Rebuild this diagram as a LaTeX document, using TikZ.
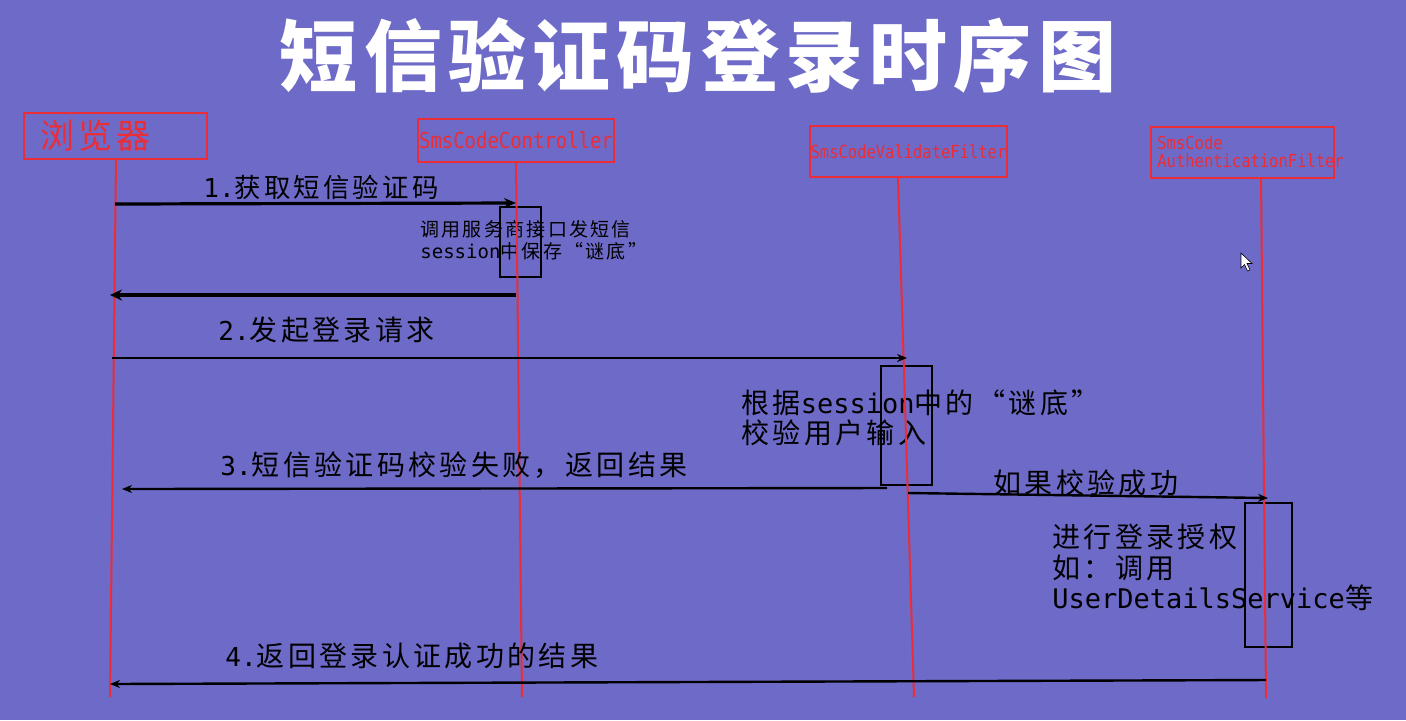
\documentclass[tikz,border=0pt]{standalone}
\usepackage{fontspec}
\newfontfamily\cjk[LetterSpace=12]{Noto Sans CJK SC}
\newfontfamily\cjkt[LetterSpace=8]{Noto Sans CJK SC}
\newfontfamily\lat{DejaVu Sans Mono}
\newfontfamily\redmono[FakeStretch=0.86]{DejaVu Sans Mono}
\usetikzlibrary{arrows.meta}
\definecolor{bg}{RGB}{110,106,200}
\definecolor{lred}{RGB}{235,45,55}
\begin{document}
\begin{tikzpicture}[x=0.5pt,y=-0.5pt,
  actorbox/.style={draw=lred, line width=0.8pt, text=lred, inner sep=0pt, align=center},
  lifeline/.style={draw=lred, line width=1pt},
  actbox/.style={draw=black, line width=0.8pt, inner sep=0pt},
  msg/.style={draw=black, line width=1.2pt, -{Stealth[length=5pt,width=4pt]}},
  msgthick/.style={draw=black, line width=1.6pt, -{Stealth[length=6pt,width=5pt]}},
  msgret/.style={draw=black, line width=2pt, -{Stealth[length=6pt,width=5.5pt]}},
  lbl/.style={anchor=west, inner sep=0pt, text=black, font=\cjk\fontsize{14}{16}\selectfont},
  note/.style={anchor=west, inner sep=0pt, text=black, align=left},
]
\useasboundingbox (0,0) rectangle (1406,720);
\fill[bg] (0,0) rectangle (1406,720);

% title
\node[text=white, inner sep=0pt, font=\cjkt\bfseries\fontsize{39}{45}\selectfont] (title) at (698,55) {短信验证码登录时序图};

% actor boxes
\node[actorbox, minimum width=91.5pt, minimum height=23pt] (browser) at (115.5,136) {};
\node[anchor=west, inner sep=0pt, text=lred, font=\cjk\fontsize{17}{19}\selectfont] (browserlbl) at (40,136) {浏览器};
\node[actorbox, minimum width=98pt, minimum height=21.5pt, font=\redmono\fontsize{11}{13}\selectfont] (ctrl) at (516,140.5) {SmsCodeController};
\node[actorbox, minimum width=98.5pt, minimum height=25.5pt, font=\redmono\fontsize{9}{10}\selectfont] (valid) at (908.5,151.5) {SmsCodeValidateFilter};
\node[actorbox, minimum width=91.5pt, minimum height=25.5pt] (auth) at (1242.5,152.5) {};
\node[anchor=west, inner sep=0pt, text=lred, align=left, font=\redmono\fontsize{9}{9}\selectfont] (authlbl) at (1157,152) {SmsCode\\AuthenticationFilter};

% lifeline coordinates
\coordinate (bT) at (116,159);  \coordinate (bB) at (110,697);
\coordinate (cT) at (516,162);  \coordinate (cB) at (522,697);
\coordinate (vT) at (898,177);  \coordinate (vB) at (914,697);
\coordinate (aT) at (1261,178); \coordinate (aB) at (1266,698);

% notes
\node[note, font=\cjk\fontsize{9.5}{11}\selectfont] (note1) at (420,240)
  {调用服务商接口发短信\\{\lat\fontsize{9.5}{11}\selectfont session}中保存“谜底”};
\node[note, font=\cjk\fontsize{14}{15}\selectfont] (note2) at (741,418)
  {根据{\lat\fontsize{13.5}{15}\selectfont session}中的“谜底”\\校验用户输入};
\node[note, font=\cjk\fontsize{14}{15.3}\selectfont] (note3) at (1052,567.5)
  {进行登录授权\\如：调用\\{\lat\fontsize{13.5}{15.3}\selectfont UserDetailsService}等};

% activation boxes
\node[actbox, minimum width=20.5pt, minimum height=35pt] (act1) at (520.5,242) {};
\node[actbox, minimum width=25.5pt, minimum height=59.5pt] (act2) at (906.5,425.5) {};
\node[actbox, minimum width=23.5pt, minimum height=72pt] (act3) at (1268.5,575) {};

% lifelines
\draw[lifeline] (bT) -- (bB);
\draw[lifeline] (cT) -- (cB);
\draw[lifeline] (vT) -- (vB);
\draw[lifeline] (aT) -- (aB);

% message labels
\node[lbl, font=\cjk\fontsize{13.2}{16}\selectfont] (l1) at (203,187) {{\lat\fontsize{13}{15}\selectfont 1.}获取短信验证码};
\node[lbl] (l2) at (218,330) {{\lat\fontsize{13}{15}\selectfont 2.}发起登录请求};
\node[lbl] (l3) at (220,465) {{\lat\fontsize{13}{15}\selectfont 3.}短信验证码校验失败，返回结果};
\node[lbl] (l4) at (993,483) {如果校验成功};
\node[lbl] (l5) at (225,656) {{\lat\fontsize{13}{15}\selectfont 4.}返回登录认证成功的结果};

% message coordinates
\coordinate (m1s) at (115,204);  \coordinate (m1e) at (516,203);
\coordinate (r1s) at (516,295);  \coordinate (r1e) at (110,295);
\coordinate (m2s) at (112,358);  \coordinate (m2e) at (907,358);
\coordinate (m3s) at (887,488);  \coordinate (m3e) at (122,489);
\coordinate (m4s) at (908,493);  \coordinate (m4e) at (1268,498);
\coordinate (m5s) at (1266,680); \coordinate (m5e) at (110,684);

\draw[msgthick] (m1s) -- (m1e);
\draw[msgret] (r1s) -- (r1e);
\draw[msg] (m2s) -- (m2e);
\draw[msg] (m3s) -- (m3e);
\draw[msg] (m4s) -- (m4e);
\draw[msg] (m5s) -- (m5e);

% mouse cursor
\draw[fill=white, draw=black, line width=0.3pt] (1241,253) -- (1241,268) -- (1244.5,264.5) -- (1247.5,271) -- (1250,270) -- (1247,263.5) -- (1252,263.5) -- cycle;
\end{tikzpicture}
\end{document}
